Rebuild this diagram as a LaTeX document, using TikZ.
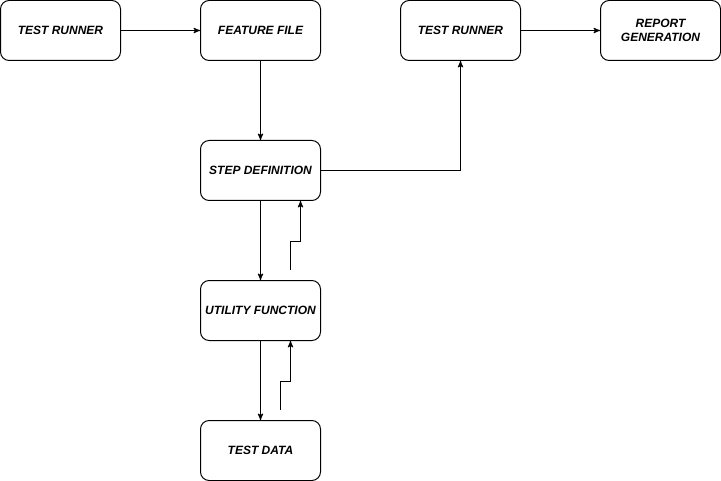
\documentclass[tikz,border=0pt]{standalone}
\usepackage{fontspec}
\setmainfont{Liberation Sans}
\usetikzlibrary{arrows}
\tikzset{stepbox/.style={draw, rounded corners=6.5pt, minimum width=90pt, minimum height=45pt, line width=.75pt, align=center, font=\fontsize{9pt}{10.5pt}\selectfont\bfseries\itshape}}
\tikzset{link/.style={black, line width=.75pt, ->, >=stealth'}}

\begin{document}
\begin{tikzpicture} [x=.75pt, y=-.75pt]
\useasboundingbox (0,0) rectangle (721,481);
\node[stepbox] (runner) at (60.5,30.5) {TEST RUNNER};
\node[stepbox] (feature) at (260.5,30.5) {FEATURE FILE};
\node[stepbox] (runnertwo) at (460.5,30.5) {TEST RUNNER};
\node[stepbox] (report) at (660.5,30.5) {REPORT\\GENERATION};
\node[stepbox] (stepdef) at (260.5,170.5) {STEP DEFINITION};
\node[stepbox] (utility) at (260.5,310.5) {UTILITY FUNCTION};
\node[stepbox] (data) at (260.5,450.5) {TEST DATA};
\coordinate (backone) at (290.5,270);
\coordinate (bendone) at (300.5,241);
\coordinate (backtwo) at (280.5,410);
\coordinate (bendtwo) at (290.5,381);
\draw[link] (runner)--(feature);
\draw[link] (runnertwo)--(report);
\draw[link] (feature)--(stepdef);
\draw[link] (stepdef.east) -| (runnertwo.south);
\draw[link] (stepdef)--(utility);
\draw[link] (utility)--(data);
\draw[link] (backone) |- (bendone)--(bendone |- stepdef.south);
\draw[link] (backtwo) |- (bendtwo)--(bendtwo |- utility.south);
\end{tikzpicture}
\end{document}
